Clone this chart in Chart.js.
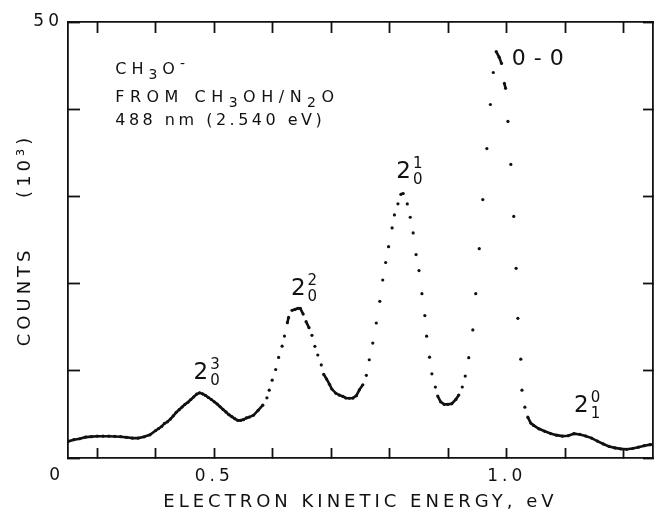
<!DOCTYPE html>
<html>
<head>
<meta charset="utf-8">
<title>CH3O- photoelectron spectrum</title>
<script src="https://cdn.jsdelivr.net/npm/chart.js@4.4.1/dist/chart.umd.min.js"></script>
<style>
    html, body { margin: 0; padding: 0; background: #fff; }
</style>
</head>
<body>
<canvas id="spectrum" width="655" height="514"></canvas>
<script>
// electron kinetic energy (eV) and counts (10^3)
const energy = [
    0.25, 0.26, 0.27, 0.28, 0.29, 0.30, 0.31, 0.32, 0.33, 0.34, 0.35, 0.36, 0.37, 0.38, 0.39,
    0.400, 0.405, 0.410, 0.415, 0.420, 0.425, 0.430, 0.435, 0.440, 0.445, 0.450, 0.455, 0.460,
    0.465, 0.470, 0.475, 0.480, 0.485, 0.490, 0.495, 0.500, 0.505, 0.510, 0.515, 0.520, 0.525,
    0.530, 0.535, 0.540, 0.545, 0.550, 0.555, 0.560,
    0.567, 0.575, 0.583, 0.590, 0.594, 0.599, 0.605, 0.610, 0.616, 0.620,
    0.625, 0.627, 0.633, 0.638, 0.643, 0.647, 0.652, 0.657, 0.662, 0.667,
    0.672, 0.677, 0.683, 0.687, 0.692, 0.697, 0.701, 0.708, 0.714, 0.720,
    0.725, 0.731, 0.737, 0.743, 0.748, 0.754, 0.760, 0.765, 0.771, 0.777,
    0.783, 0.788, 0.793, 0.798, 0.804, 0.808, 0.814, 0.819, 0.823, 0.830,
    0.835, 0.840, 0.845, 0.850, 0.855, 0.860, 0.863, 0.868, 0.872, 0.878,
    0.882, 0.887, 0.893, 0.899, 0.906, 0.913, 0.918, 0.924, 0.929, 0.935,
    0.942, 0.947, 0.953, 0.959, 0.966, 0.972, 0.977, 0.982, 0.987, 0.991,
    0.996, 0.998, 1.002, 1.007, 1.012, 1.016, 1.019, 1.024, 1.026, 1.031,
    1.036, 1.041, 1.046,
    1.055, 1.065, 1.075, 1.085, 1.095, 1.105, 1.115, 1.125, 1.135, 1.145,
    1.155, 1.165, 1.175, 1.185, 1.195, 1.205, 1.215, 1.225, 1.235, 1.245, 1.255
];
const counts = [
    1.90, 2.10, 2.21, 2.39, 2.45, 2.50, 2.50, 2.50, 2.47, 2.44, 2.37, 2.28, 2.28, 2.43, 2.66,
    3.15, 3.38, 3.61, 3.96, 4.15, 4.46, 4.84, 5.24, 5.54, 5.85, 6.16, 6.39, 6.70,
    7.01, 7.32, 7.47, 7.36, 7.17, 6.94, 6.71, 6.44, 6.19, 5.88, 5.57, 5.28, 4.97,
    4.74, 4.51, 4.32, 4.32, 4.40, 4.60, 4.69,
    4.90, 5.47, 6.06, 6.90, 7.78, 8.92, 10.15, 11.53, 12.82, 13.98,
    15.52, 16.12, 16.93, 17.04, 17.16, 17.16, 16.50, 15.63, 14.94, 14.07,
    12.81, 11.81, 10.67, 9.60, 9.06, 8.45, 7.91, 7.42, 7.21, 7.06,
    6.88, 6.85, 6.87, 7.15, 7.82, 8.40, 9.48, 11.27, 13.18, 15.48,
    17.97, 20.41, 22.42, 24.24, 26.38, 27.87, 29.15, 30.24, 30.33, 29.14,
    27.61, 25.81, 23.33, 21.49, 18.85, 16.33, 13.97, 11.56, 9.65, 8.13,
    7.10, 6.45, 6.16, 6.15, 6.23, 6.72, 7.22, 8.14, 9.40, 11.51,
    14.69, 18.85, 24.01, 29.64, 35.49, 40.54, 44.21, 46.60, 45.97, 45.25,
    42.96, 42.39, 38.60, 33.67, 27.70, 21.75, 16.02, 11.33, 7.78, 5.83,
    4.68, 4.00, 3.74,
    3.35, 3.06, 2.80, 2.62, 2.51, 2.56, 2.79, 2.70, 2.51, 2.28,
    1.94, 1.61, 1.33, 1.16, 1.05, 1.00, 1.09, 1.24, 1.41, 1.53, 1.56
];

// tick marks every 0.1 eV and every 10k counts; only a few carry labels
const xTickValues = [0.3, 0.4, 0.5, 0.6, 0.7, 0.8, 0.9, 1.0, 1.1, 1.2];
const xTickLabels = ['0.5', '1.0'];
const yTickValues = [0, 10, 20, 30, 40, 50];
const yTickLabels = ['50'];
const originLabel = '0';

const ink = '#111';
const family = '"DejaVu Sans", sans-serif';

// sample / source description, top left
const infoLines = [
    { at: [0.3307, 43.99], spacing: 5, parts: [['CH', 16, 0], ['3', 14, 5], ['O', 16, 0], ['-', 14, -6]] },
    { at: [0.3307, 40.83], spacing: 5.5, parts: [['FROM CH', 16, 0], ['3', 14, 5], ['OH/N', 16, 0], ['2', 14, 5], ['O', 16, 0]] },
    { at: [0.3307, 38.24], spacing: 3.5, parts: [['488 nm (2.540 eV)', 16, 0]] }
];

// vibrational band labels: big digit with stacked upper/lower indices
const bandLabels = [
    { at: [0.4646, 9.06], sup: '3', sub: '0' },
    { at: [0.6310, 18.65], sup: '2', sub: '0' },
    { at: [0.8113, 32.13], sup: '1', sub: '0' },
    { at: [1.1150, 5.30], sup: '0', sub: '1' }
];
const originBand = { at: [1.0087, 45.06], text: '0-0' };

function drawParts(ctx, x, y, parts) {
    parts.forEach(([text, size, dy]) => {
        ctx.font = size + 'px ' + family;
        ctx.fillText(text, x, y + dy);
        x += ctx.measureText(text).width;
    });
}

const labelPlugin = {
    id: 'spectrumLabels',
    beforeDraw(chart) {
        chart.ctx.letterSpacing = '4px';
    },
    afterDraw(chart) {
        const ctx = chart.ctx;
        const xs = chart.scales.x;
        const ys = chart.scales.y;
        ctx.save();
        ctx.fillStyle = ink;
        ctx.textAlign = 'left';
        ctx.textBaseline = 'alphabetic';

        infoLines.forEach(line => {
            ctx.letterSpacing = line.spacing + 'px';
            drawParts(ctx, xs.getPixelForValue(line.at[0]), ys.getPixelForValue(line.at[1]), line.parts);
        });

        ctx.letterSpacing = '0px';
        bandLabels.forEach(b => {
            const px = xs.getPixelForValue(b.at[0]);
            const py = ys.getPixelForValue(b.at[1]);
            ctx.font = '23px ' + family;
            ctx.fillText('2', px, py);
            const w = ctx.measureText('2').width + 2;
            ctx.font = '15px ' + family;
            ctx.fillText(b.sup, px + w, py - 10);
            ctx.fillText(b.sub, px + w, py + 6);
        });

        ctx.letterSpacing = '8px';
        ctx.font = '22px ' + family;
        ctx.fillText(originBand.text, xs.getPixelForValue(originBand.at[0]), ys.getPixelForValue(originBand.at[1]));

        // origin of the counts axis sits below the corner
        ctx.letterSpacing = '0px';
        ctx.font = '17px ' + family;
        ctx.textAlign = 'right';
        ctx.fillText(originLabel, xs.left - 8, ys.bottom + 22);
        ctx.restore();
    }
};

const frame = { display: true, color: ink, width: 1.8 };
function inwardTicks(len) {
    return { drawOnChartArea: false, drawTicks: true, tickLength: -len, tickColor: ink, tickWidth: 1.8 };
}
// fixed box sizes, and no extra room reserved for end labels
function box(w, h) {
    return s => {
        if (w !== null) s.width = w;
        if (h !== null) s.height = h;
        s.paddingLeft = s.paddingRight = s.paddingTop = s.paddingBottom = 0;
    };
}
function fixedTicks(values) {
    return s => { s.ticks = values.map(v => ({ value: v })); };
}

new Chart(document.getElementById('spectrum'), {
    type: 'scatter',
    data: {
        datasets: [{
            data: energy.map((e, i) => ({ x: e, y: counts[i] })),
            showLine: true,
            borderColor: ink,
            borderWidth: 2.6,
            pointRadius: 1.6,
            pointBackgroundColor: ink,
            pointBorderWidth: 0,
            pointHoverRadius: 0,
            segment: {
                // closely spaced samples merge into a trace, sparse ones stay as dots
                borderColor: ctx => Math.hypot(ctx.p1.x - ctx.p0.x, ctx.p1.y - ctx.p0.y) < 7.5 ? ink : 'rgba(0,0,0,0)'
            }
        }]
    },
    options: {
        responsive: false,
        animation: false,
        events: [],
        layout: { padding: 0 },
        plugins: { legend: { display: false }, tooltip: { enabled: false } },
        scales: {
            x: {
                type: 'linear', position: 'bottom', min: 0.25, max: 1.25,
                afterBuildTicks: fixedTicks(xTickValues),
                afterFit: box(null, 56),
                border: frame,
                grid: inwardTicks(10),
                ticks: {
                    autoSkip: false, maxRotation: 0,
                    padding: 18, color: ink, font: { family: family, size: 17 },
                    callback: v => {
                        const t = v.toFixed(1);
                        return xTickLabels.includes(t) ? t : '';
                    }
                },
                title: {
                    display: true, text: 'ELECTRON KINETIC ENERGY, eV', color: ink,
                    font: { family: family, size: 18 }, padding: { top: 0, bottom: 1 }
                }
            },
            x2: {
                type: 'linear', axis: 'x', position: 'top', min: 0.25, max: 1.25,
                afterBuildTicks: fixedTicks(xTickValues),
                afterFit: box(null, 22),
                border: frame,
                grid: inwardTicks(11),
                ticks: { display: false, autoSkip: false }
            },
            y: {
                type: 'linear', position: 'left', min: 0, max: 50,
                afterBuildTicks: fixedTicks(yTickValues),
                afterFit: box(68, null),
                border: frame,
                grid: inwardTicks(12),
                ticks: {
                    autoSkip: false, padding: 17, color: ink,
                    font: { family: family, size: 17 },
                    callback: v => yTickLabels.includes(String(v)) ? String(v) : ''
                },
                title: {
                    display: true, text: 'COUNTS     (10³)', color: ink,
                    font: { family: family, size: 18 }, padding: { top: 15, bottom: 0 }
                }
            },
            y2: {
                type: 'linear', axis: 'y', position: 'right', min: 0, max: 50,
                afterBuildTicks: fixedTicks(yTickValues),
                afterFit: box(2, null),
                border: frame,
                grid: inwardTicks(10),
                ticks: { display: false, autoSkip: false }
            }
        }
    },
    plugins: [labelPlugin]
});
</script>
</body>
</html>
